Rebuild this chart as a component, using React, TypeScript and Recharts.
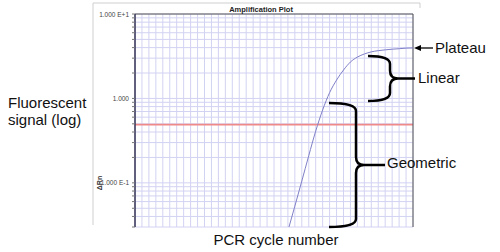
import { LineChart, Line, XAxis, YAxis, CartesianGrid, ReferenceLine } from 'recharts';

// cycles where the curve is above the bottom of the plot
const cycles = [22, 23, 24, 25, 26, 27, 28, 29, 30, 31, 32, 33, 34, 35, 36, 37, 38, 39, 40];
const deltaRn = [0.027, 0.053, 0.105, 0.21, 0.41, 0.73, 1.17, 1.65, 2.17, 2.7, 3.09, 3.36, 3.56, 3.68, 3.76, 3.83, 3.88, 3.94, 3.96];

const threshold = 0.49;

const xTicks = [0, 1, 2, 3, 4, 5, 6, 7, 8, 9, 10, 11, 12, 13, 14, 15, 16, 17, 18, 19, 20, 21, 22, 23, 24, 25, 26, 27, 28, 29, 30, 31, 32, 33, 34, 35, 36, 37, 38, 39, 40];
const yTicks = [
  0.03, 0.04, 0.05, 0.06, 0.07, 0.08, 0.09,
  0.1, 0.2, 0.3, 0.4, 0.5, 0.6, 0.7, 0.8, 0.9,
  1, 2, 3, 4, 5, 6, 7, 8, 9, 10,
];
const majorTicks = [0.1, 1, 10];
const majorLabels = ['1.000 E-1', '1.000', '1.000 E+1'];

const data = cycles.map((c, i) => ({ cycle: c, rn: deltaRn[i] }));

const grid = '#d2d2f3';

function YTick(props: any) {
  const { x, y, payload } = props;
  const i = majorTicks.indexOf(payload.value);
  if (i < 0) return <g />;
  return (
    <text x={x} y={y} dy={2.5} textAnchor="end" fontSize={6.5} fill="#444" fontFamily="Liberation Sans, Arial, sans-serif">
      {majorLabels[i]}
    </text>
  );
}

const EmptyTick = () => <g />;

function brace(x0: number, x1: number, x2: number, y1: number, y2: number) {
  const ym = (y1 + y2) / 2;
  const r = 8;
  return `M ${x0} ${y1} Q ${x1} ${y1} ${x1} ${y1 + r} L ${x1} ${ym - r} Q ${x1} ${ym} ${x1 + r} ${ym} L ${x2} ${ym} M ${x1 + r} ${ym} Q ${x1} ${ym} ${x1} ${ym + r} L ${x1} ${y2 - r} Q ${x1} ${y2} ${x0} ${y2}`;
}

export default function App() {
  const font = 'Liberation Sans, Arial, sans-serif';
  return (
    <div style={{ position: 'absolute', left: 0, top: 0, width: 500, height: 252, background: '#fff' }}>
      <LineChart width={500} height={252} data={data} margin={{ top: 14, right: 87, bottom: 25, left: 95 }}>
        <CartesianGrid stroke={grid} strokeWidth={1} />
        <XAxis
          dataKey="cycle"
          type="number"
          domain={[0, 40]}
          ticks={xTicks}
          interval={0}
          axisLine={false}
          tickLine={false}
          tick={<EmptyTick />}
          height={0}
        />
        <YAxis
          scale="log"
          type="number"
          domain={[0.03, 10]}
          allowDataOverflow
          ticks={yTicks}
          interval={0}
          width={40}
          tickSize={3}
          tickMargin={3}
          tick={<YTick />}
          axisLine={{ stroke: '#333355', strokeWidth: 1.5 }}
          tickLine={{ stroke: '#777' }}
        />
        <ReferenceLine y={threshold} stroke="#f08a8a" strokeWidth={1.6} />
        <ReferenceLine y={10} stroke="#555" strokeWidth={1} />
        <ReferenceLine x={40} stroke="#555" strokeWidth={1} />
        <Line
          dataKey="rn"
          type="monotone"
          stroke="#8080c8"
          strokeWidth={1}
          dot={false}
          isAnimationActive={false}
        />
      </LineChart>
      <svg width={500} height={252} style={{ position: 'absolute', left: 0, top: 0, pointerEvents: 'none' }}>
        {/* window frame */}
        <line x1={93} y1={3} x2={420} y2={3} stroke="#cfcfcf" strokeWidth={1} />
        <line x1={93} y1={3} x2={93} y2={225} stroke="#cfcfcf" strokeWidth={1} />
        <line x1={420} y1={3} x2={420} y2={8} stroke="#cfcfcf" strokeWidth={1} />
        <text x={261} y={12} textAnchor="middle" fontSize={7.5} fontWeight="bold" fill="#222" fontFamily={font}>
          Amplification Plot
        </text>
        <text
          x={0}
          y={0}
          transform="translate(102 183) rotate(-90)"
          textAnchor="middle"
          fontSize={7}
          fontWeight="bold"
          fill="#333"
          fontFamily={font}
        >
          ΔRn
        </text>

        {/* annotations */}
        <line x1={433} y1={48} x2={419} y2={48} stroke="#000" strokeWidth={1.3} />
        <path d="M 414 48 L 421 45 L 421 51 Z" fill="#000" />
        <text x={435} y={53} fontSize={15} fill="#111" fontFamily={font}>Plateau</text>

        <path d={brace(368, 390, 415, 56, 101)} fill="none" stroke="#000" strokeWidth={2.5} />
        <text x={418} y={83} fontSize={15} fill="#111" fontFamily={font}>Linear</text>

        <path d={brace(329, 356, 385, 103, 227)} fill="none" stroke="#000" strokeWidth={2.5} />
        <text x={387} y={168} fontSize={15} fill="#111" fontFamily={font}>Geometric</text>

        <text x={8} y={108} fontSize={15} fill="#111" fontFamily={font}>Fluorescent</text>
        <text x={8} y={125} fontSize={15} fill="#111" fontFamily={font}>signal (log)</text>
        <text x={276} y={245} textAnchor="middle" fontSize={15} fill="#111" fontFamily={font}>PCR cycle number</text>
      </svg>
    </div>
  );
}
